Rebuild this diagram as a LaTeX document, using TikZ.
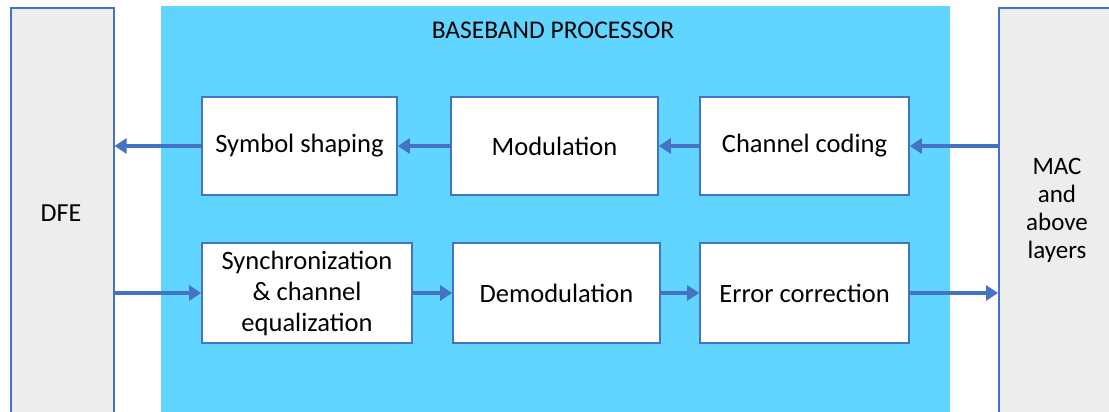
\documentclass[tikz,border=0pt]{standalone}
\usepackage{fontspec}
\setmainfont{Carlito}
\usetikzlibrary{arrows.meta}
\definecolor{bbblue}{RGB}{95,213,255}
\definecolor{edgeblue}{RGB}{68,114,196}
\definecolor{sidegray}{RGB}{237,237,237}
\tikzset{
  block/.style={draw=edgeblue, line width=1.6pt, fill=white, align=center, inner sep=2pt,
    font=\fontsize{26.5}{31}\selectfont},
  side/.style={draw=edgeblue, line width=1.6pt, fill=sidegray, anchor=north west},
  flow/.style={draw=edgeblue, line width=4pt, -{Triangle[length=12pt, width=15pt]}},
}
\begin{document}
\begin{tikzpicture}[x=1pt, y=-1pt]
\clip (0,0) rectangle (1109,412);
\fill[white] (0,0) rectangle (1109,412);
\fill[bbblue] (161,6) rectangle (950,420);
\node[font=\fontsize{25.5}{30}\selectfont] (title) at (553,30) {BASEBAND PROCESSOR};

\node[side, minimum width=103pt, minimum height=420pt] (dfe) at (10,7) {};
\node[font=\fontsize{26}{30}\selectfont] at (61,213) {DFE};
\node[side, minimum width=120pt, minimum height=420pt] (mac) at (998,7) {};
\node[font=\fontsize{25}{28}\selectfont, align=center] at (1057,210) {MAC\\and\\above\\layers};

\node[block, minimum width=195pt, minimum height=98pt] (ss) at (299.5,146) {Symbol shaping};
\node[block, minimum width=207pt, minimum height=98pt] (mod) at (554.5,146) {Modulation};
\node[block, minimum width=209pt, minimum height=98pt] (cc) at (804.5,146) {Channel coding};

\node[block, minimum width=210pt, minimum height=100pt] (sync) at (307,293) {Synchronization\\\& channel\\equalization};
\node[block, minimum width=207pt, minimum height=100pt] (demod) at (556.5,293) {Demodulation};
\node[block, minimum width=209pt, minimum height=100pt] (ec) at (804.5,293) {Error correction};

% transmit path
\draw[flow] (cc.east -| mac.west) -- (cc.east);
\draw[flow] (cc.west) -- (mod.east);
\draw[flow] (mod.west) -- (ss.east);
\draw[flow] (ss.west) -- (ss.west -| dfe.east);

% receive path
\draw[flow] (sync.west -| dfe.east) -- (sync.west);
\draw[flow] (sync.east) -- (demod.west);
\draw[flow] (demod.east) -- (ec.west);
\draw[flow] (ec.east) -- (ec.east -| mac.west);
\end{tikzpicture}
\end{document}
